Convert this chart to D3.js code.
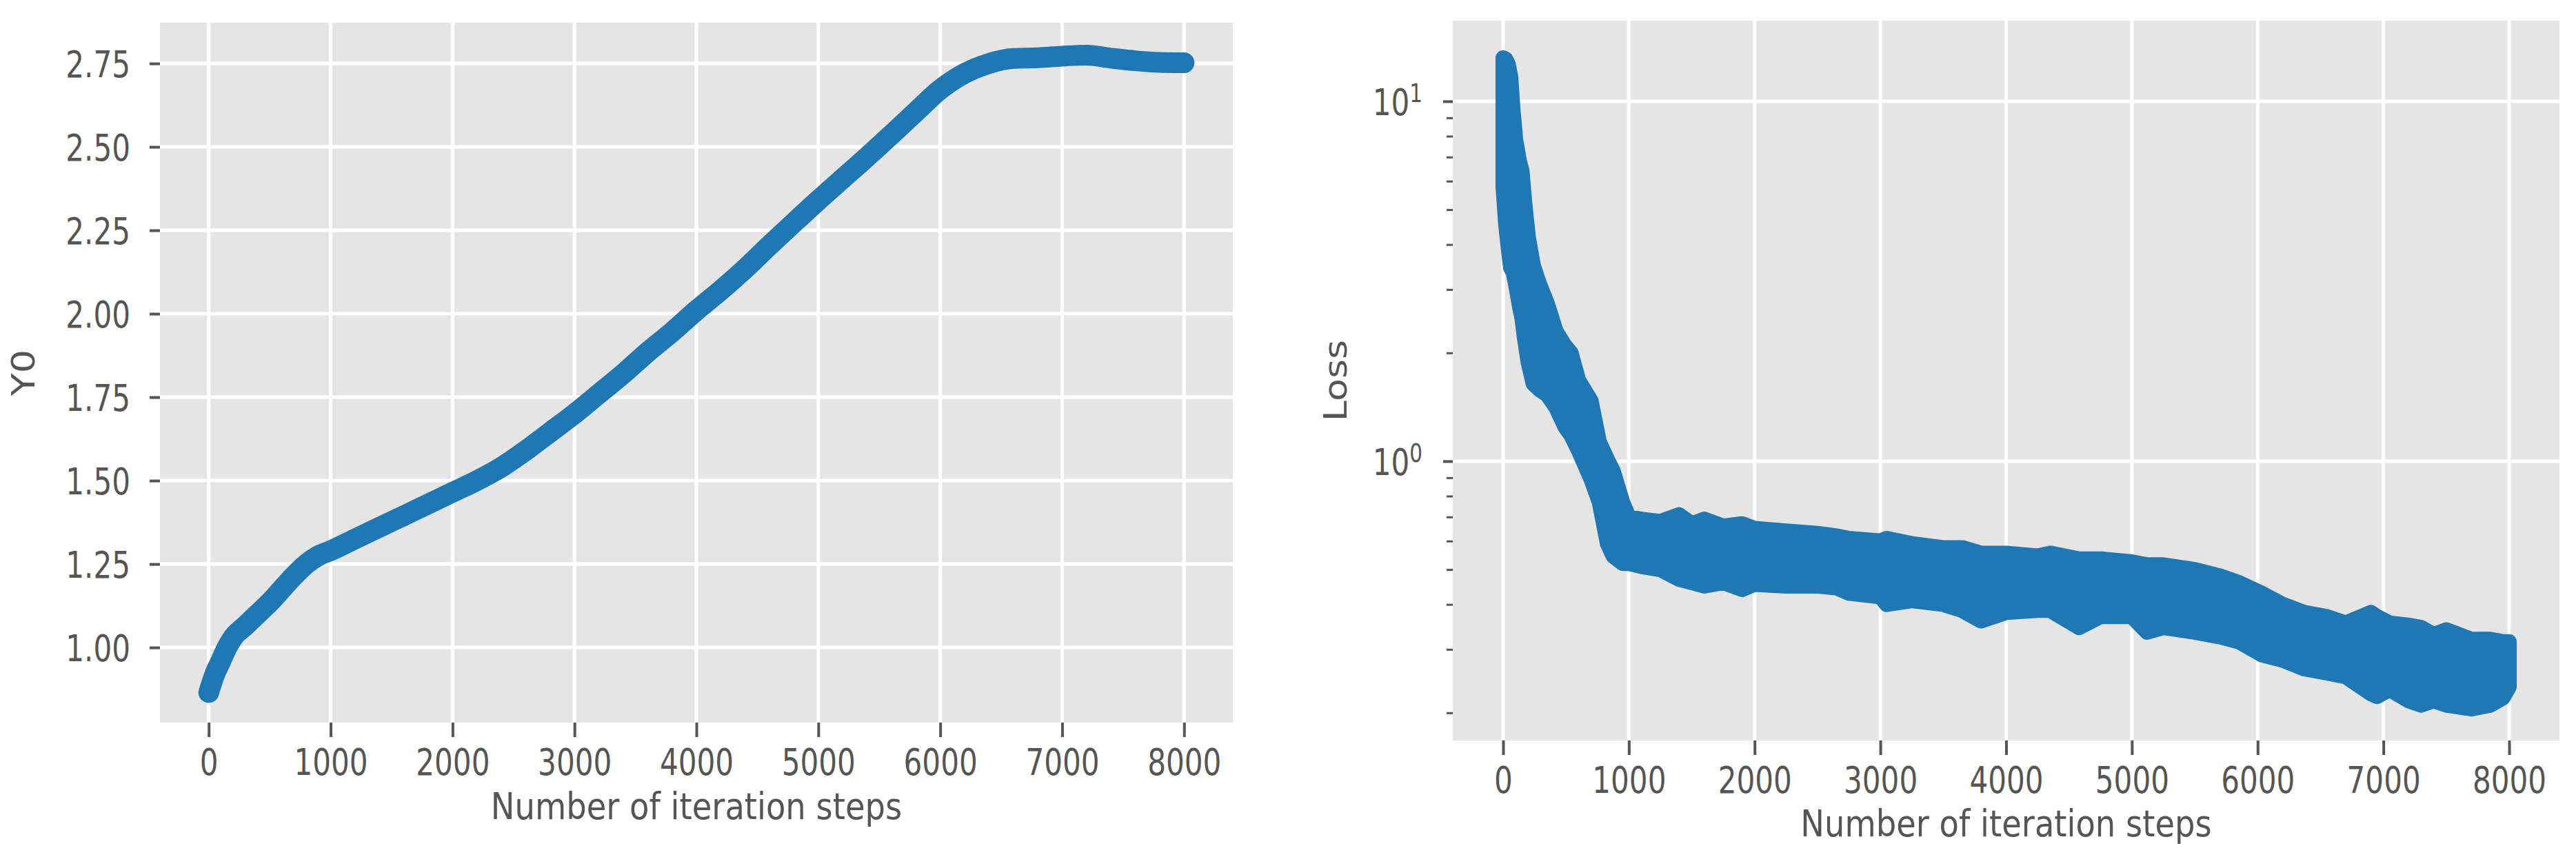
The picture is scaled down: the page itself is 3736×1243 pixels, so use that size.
<!DOCTYPE html>
<html>
<head>
<meta charset="utf-8">
<script src="https://cdn.jsdelivr.net/npm/d3@7"></script>
<style>
  body { margin: 0; background: #fff; }
  text { font-family: "DejaVu Sans", sans-serif; }
</style>
</head>
<body>
<script>
// iteration steps shared by both panels
const xTicks = [0, 1000, 2000, 3000, 4000, 5000, 6000, 7000, 8000];

// left panel: Y0 against iteration
const y0Steps = [0, 50, 100, 150, 200, 300, 400, 500, 600, 700, 800, 900, 1000, 1200, 1400, 1600, 1800,
    2000, 2200, 2400, 2600, 2800, 3000, 3200, 3400, 3600, 3800, 4000, 4200, 4400, 4600, 4800, 5000,
    5200, 5400, 5600, 5800, 6000, 6200, 6400, 6600, 6800, 7000, 7200, 7400, 7600, 7800, 8000];
const y0Values = [0.865, 0.92, 0.96, 1.00, 1.03, 1.065, 1.10, 1.135, 1.175, 1.215, 1.25, 1.275, 1.29, 1.325, 1.36, 1.395, 1.43,
    1.465, 1.50, 1.54, 1.59, 1.645, 1.70, 1.76, 1.82, 1.885, 1.945, 2.01, 2.07, 2.135, 2.205, 2.273, 2.34,
    2.405, 2.47, 2.537, 2.605, 2.672, 2.72, 2.75, 2.765, 2.767, 2.772, 2.775, 2.766, 2.758, 2.753, 2.752];
const y0Ticks = [1.00, 1.25, 1.50, 1.75, 2.00, 2.25, 2.50, 2.75];

// right panel: loss band (upper / lower envelope of the scattered points)
const lossSteps = [0, 20, 40, 60, 80, 100, 130, 150, 170, 200, 240, 290, 350, 420, 490, 540, 600, 700, 765, 830, 875, 950,
    1000, 1100, 1250, 1400, 1500, 1600, 1750, 1900, 2000, 2250, 2500, 2650, 2750, 3000, 3050, 3250, 3500, 3650,
    3800, 4000, 4250, 4350, 4580, 4750, 5000, 5120, 5250, 5500, 5700, 5850, 6030, 6200, 6370, 6550, 6700, 6900,
    6950, 7050, 7200, 7300, 7400, 7500, 7700, 7850, 7950, 8000];
const lossUpper = [13.2, 13.1, 12.7, 11.7, 9.3, 7.8, 6.8, 6.4, 5.3, 4.2, 3.5, 3.1, 2.75, 2.3, 2.1, 2.0, 1.68, 1.47, 1.13, 1.01, 0.94, 0.77,
    0.70, 0.69, 0.68, 0.71, 0.67, 0.69, 0.66, 0.67, 0.65, 0.64, 0.63, 0.62, 0.61, 0.60, 0.61, 0.59, 0.575, 0.575,
    0.555, 0.555, 0.545, 0.555, 0.535, 0.535, 0.525, 0.515, 0.515, 0.50, 0.48, 0.46, 0.43, 0.40, 0.38, 0.37, 0.355, 0.38,
    0.37, 0.355, 0.35, 0.345, 0.33, 0.34, 0.32, 0.32, 0.315, 0.315];
const lossLower = [5.8, 4.6, 3.95, 3.45, 3.35, 3.1, 2.7, 2.5, 2.2, 1.88, 1.64, 1.58, 1.53, 1.41, 1.25, 1.18, 1.07, 0.89, 0.77, 0.59, 0.545, 0.52,
    0.52, 0.51, 0.50, 0.47, 0.46, 0.45, 0.46, 0.44, 0.455, 0.45, 0.45, 0.445, 0.43, 0.42, 0.40, 0.41, 0.40, 0.385,
    0.36, 0.38, 0.385, 0.385, 0.345, 0.37, 0.37, 0.335, 0.345, 0.335, 0.325, 0.315, 0.29, 0.28, 0.265, 0.258, 0.252, 0.226,
    0.222, 0.232, 0.216, 0.21, 0.216, 0.21, 0.205, 0.21, 0.22, 0.236];
const lossMajor = [1, 10];
const lossMinor = [0.2, 0.3, 0.4, 0.5, 0.6, 0.7, 0.8, 0.9, 2, 3, 4, 5, 6, 7, 8, 9];

const BLUE = '#1f77b4';
const TXT = '#555555';
const SX = 0.78;   // the picture is squeezed sideways, so is its text
const SXT = 0.86;  // axis titles are squeezed a little less

const svg = d3.select('body').append('svg').attr('width', 3736).attr('height', 1243);

const left = {x0: 232, x1: 1788, y0: 33, y1: 1048};
const right = {x0: 2107, x1: 3712, y0: 30, y1: 1074};

const xL = d3.scaleLinear().domain([-400, 8400]).range([left.x0, left.x1]);
const yL = d3.scaleLinear().domain([0.775, 2.872]).range([left.y1, left.y0]);
const xR = d3.scaleLinear().domain([-400, 8400]).range([right.x0, right.x1]);
const yR = d3.scaleLog().domain([Math.pow(10, -0.776), Math.pow(10, 1.224)]).range([right.y1, right.y0]);

drawPanel(left, xL, yL, y0Ticks);
drawPanel(right, xR, yR, lossMajor);

// Y0 curve: dense markers look like one thick line
svg.append('path')
    .datum(d3.zip(y0Steps, y0Values))
    .attr('fill', 'none')
    .attr('stroke', BLUE)
    .attr('stroke-width', 30)
    .attr('stroke-linecap', 'round')
    .attr('stroke-linejoin', 'round')
    .attr('d', d3.line().curve(d3.curveMonotoneX).x(d => xL(d[0])).y(d => yL(d[1])));

// loss band
svg.append('path')
    .datum(d3.zip(lossSteps, lossUpper, lossLower))
    .attr('fill', BLUE)
    .attr('stroke', BLUE)
    .attr('stroke-width', 22)
    .attr('stroke-linejoin', 'round')
    .attr('d', d3.area().x(d => xR(d[0])).y0(d => yR(d[2])).y1(d => yR(d[1])));

// axes
xAxis(left, xL);
xAxis(right, xR);

const gy = svg.append('g').attr('transform', `translate(${left.x0},0)`)
    .call(d3.axisLeft(yL).tickValues(y0Ticks).tickFormat(d3.format('.2f')).tickSize(15).tickPadding(0));
styleAxis(gy);
gy.selectAll('text').attr('x', -43 / SX).attr('dy', '0.36em').attr('transform', `scale(${SX},1)`);

const gr = svg.append('g').attr('transform', `translate(${right.x0},0)`)
    .call(d3.axisLeft(yR).tickValues(lossMajor).tickSize(14).tickPadding(0).tickFormat(() => '10'));
styleAxis(gr);
gr.selectAll('text').attr('x', -44 / SX).attr('dy', '0.36em').attr('transform', `scale(${SX},1)`)
    .append('tspan').attr('dy', '-0.5em').attr('font-size', '0.7em').text(d => Math.round(Math.log10(d)));

const gm = svg.append('g').attr('transform', `translate(${right.x0},0)`)
    .call(d3.axisLeft(yR).tickValues(lossMinor).tickSize(9).tickFormat(''));
styleAxis(gm);
gm.selectAll('line').attr('stroke-width', 3);

// axis titles
label('Number of iteration steps', (left.x0 + left.x1) / 2, 1188, 0);
label('Number of iteration steps', (right.x0 + right.x1) / 2, 1213, 0);
label('Y0', 50, (left.y0 + left.y1) / 2, -90);
label('Loss', 1953, (right.y0 + right.y1) / 2, -90);

function drawPanel(box, x, y, yGrid) {
    svg.append('rect')
        .attr('x', box.x0).attr('y', box.y0)
        .attr('width', box.x1 - box.x0).attr('height', box.y1 - box.y0)
        .attr('fill', '#e5e5e5');
    svg.append('g').selectAll('line').data(xTicks).enter().append('line')
        .attr('x1', d => x(d)).attr('x2', d => x(d))
        .attr('y1', box.y0).attr('y2', box.y1)
        .attr('stroke', '#fff').attr('stroke-width', 5);
    svg.append('g').selectAll('line').data(yGrid).enter().append('line')
        .attr('x1', box.x0).attr('x2', box.x1)
        .attr('y1', d => y(d)).attr('y2', d => y(d))
        .attr('stroke', '#fff').attr('stroke-width', 5);
}

function xAxis(box, x) {
    const g = svg.append('g').attr('transform', `translate(0,${box.y1})`)
        .call(d3.axisBottom(x).tickValues(xTicks).tickFormat(d3.format('d')).tickSize(21).tickPadding(17));
    styleAxis(g);
    g.selectAll('text').attr('transform', `scale(${SX},1)`);
}

function styleAxis(g) {
    g.select('.domain').remove();
    g.selectAll('line').attr('stroke', TXT).attr('stroke-width', 4);
    g.selectAll('text').attr('fill', TXT).attr('font-size', 54)
        .attr('font-family', '"DejaVu Sans", sans-serif');
}

function label(txt, x, y, rot) {
    svg.append('text')
        .attr('transform', `translate(${x},${y}) scale(${SXT},1) rotate(${rot})`)
        .attr('text-anchor', 'middle')
        .attr('fill', TXT)
        .attr('font-size', 54)
        .text(txt);
}
</script>
</body>
</html>
